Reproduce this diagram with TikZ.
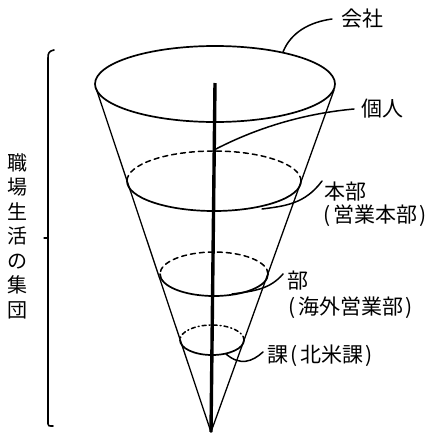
\documentclass[tikz,border=0pt]{standalone}
\usepackage{fontspec}
\newfontfamily\jp{Noto Sans CJK JP}
\newcommand\lpar{\hspace{2.5pt}(\hspace{2.5pt}}
\newcommand\rpar{\hspace{2.5pt})}
\begin{document}
\begin{tikzpicture}[x=1pt,y=-1pt,line cap=round,line join=round,
  lbl/.style={font=\jp\fontsize{21}{24}\selectfont,inner sep=0pt,anchor=west},
  rim/.style={line width=1.7pt},
  side/.style={line width=1.3pt},
  lead/.style={line width=1.5pt},
  hid/.style={line width=1.5pt,dash pattern=on 5pt off 4pt},
  hidd/.style={line width=1.5pt,dash pattern=on 4pt off 3pt on 1pt off 3pt}]
\useasboundingbox (0,0) rectangle (435,434);
% cone
\coordinate (apex) at (211,432);
\coordinate (axtop) at (215,83);
\coordinate (L) at (96,88);
\coordinate (R) at (334,90);
\draw[rim] (215,84) ellipse [x radius=120pt,y radius=38pt];
\draw[side] (L) -- (apex);
\draw[side] (R) -- (apex);
% level 2
\draw[hid] (301,181) arc[start angle=0,end angle=180,x radius=87pt,y radius=30pt];
\draw[rim] (127,181) arc[start angle=180,end angle=360,x radius=87pt,y radius=30pt];
% level 3
\draw[hid] (268,274) arc[start angle=0,end angle=180,x radius=54pt,y radius=22pt];
\draw[rim] (160,274) arc[start angle=180,end angle=360,x radius=54pt,y radius=22pt];
% level 4
\draw[hidd] (244,340) arc[start angle=0,end angle=180,x radius=32pt,y radius=15pt];
\draw[rim] (180,340) arc[start angle=180,end angle=360,x radius=32pt,y radius=15pt];
% axis
\draw[line width=3.4pt,line cap=butt] (axtop) -- (apex);
% labels
\node[lbl] (kaisha) at (341,19) {会社};
\node[lbl] (kojin) at (361,109) {個人};
\node[lbl] (honbu) at (324,192) {本部};
\node[lbl] (eigyo) at (321,216) {\lpar 営業本部\rpar};
\node[lbl] (bu) at (287,281) {部};
\node[lbl] (kaigai) at (286,308) {\lpar 海外営業部\rpar};
\node[lbl] (ka) at (267,356) {課\lpar 北米課\rpar};
% leaders
\coordinate (p1) at (283,52);
\coordinate (p2) at (214,150);
\coordinate (p3) at (262,209);
\coordinate (p4) at (232,294);
\coordinate (p5) at (226,354);
\draw[lead] (p1) .. controls (291,32) and (310,22) .. ([xshift=-9pt]kaisha.west);
\draw[lead] (p2) .. controls (262,125) and (310,113) .. ([xshift=-7pt]kojin.west);
\draw[lead] (p3) .. controls (285,206) and (305,204) .. ([xshift=-2pt,yshift=11pt]honbu.west);
\draw[lead] (p4) .. controls (255,291) and (270,289) .. ([xshift=-4pt,yshift=7pt]bu.west);
\draw[lead] (p5) .. controls (240,366) and (252,362) .. ([xshift=-4pt,yshift=4pt]ka.west);
% bracket and vertical label
\coordinate (bt) at (54,50);
\coordinate (bb) at (53,426);
\coordinate (bm) at (44,238);
\draw[line width=1.6pt] (bt) .. controls (49,51) and (48,53) .. (48,58) -- (48,424) .. controls (48,426) and (49,426) .. (bb);
\draw[line width=1.3pt] (48,238) -- (bm);
\node[font=\jp\fontsize{20}{24.5}\selectfont,inner sep=0pt,align=center] (vert) at (18,236) {職\\場\\生\\活\\の\\集\\団};
\end{tikzpicture}
\end{document}
